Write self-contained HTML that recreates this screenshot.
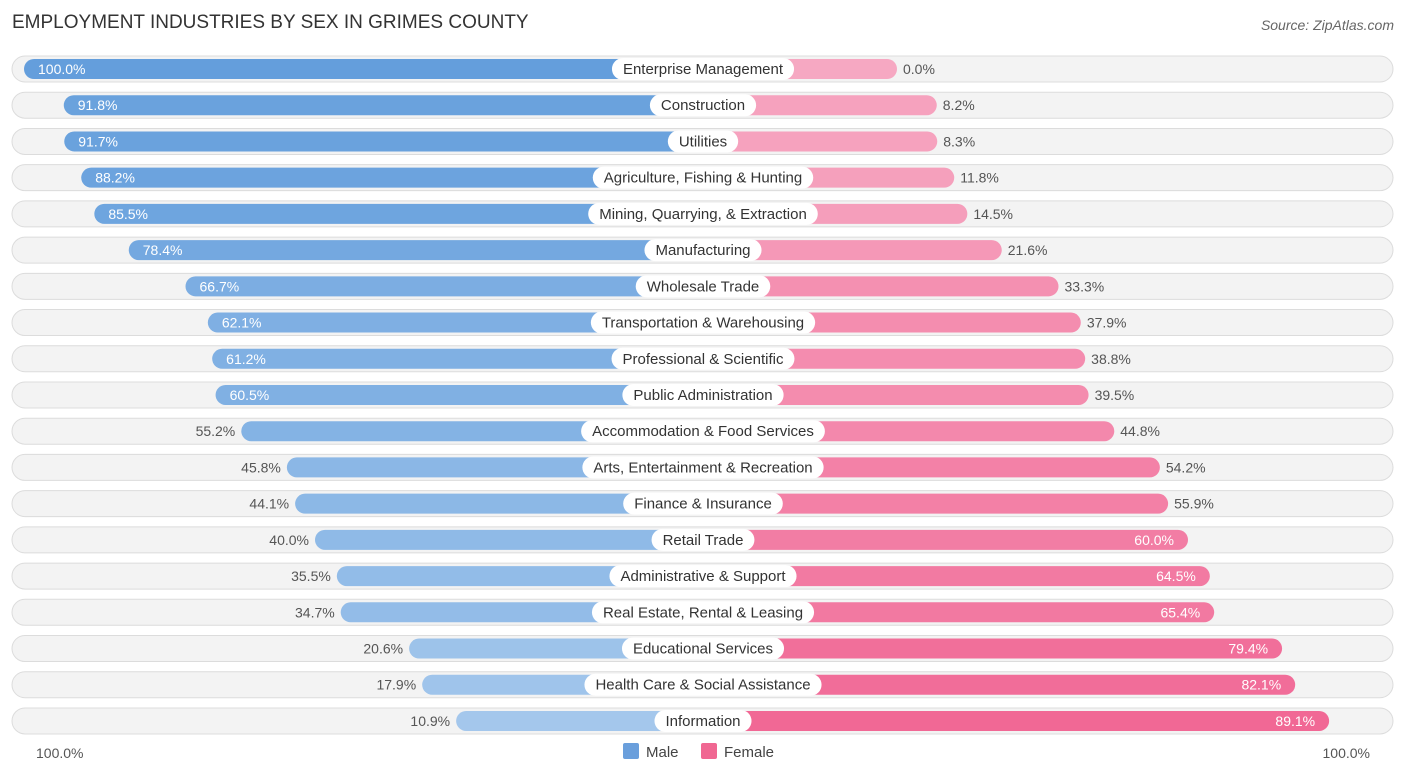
<!DOCTYPE html>
<html><head><meta charset="utf-8">
<style>
body{margin:0;width:1406px;height:776px;background:#fff;font-family:"Liberation Sans",sans-serif;overflow:hidden}
svg{display:block}
</style></head>
<body>
<svg id="chart" width="1406" height="776">
<text x="12" y="28" font-size="19" fill="#333">EMPLOYMENT INDUSTRIES BY SEX IN GRIMES COUNTY</text>
<text x="1394" y="30" font-size="14" fill="#666" font-style="italic" text-anchor="end">Source: ZipAtlas.com</text>
<g id="rows"></g>
<text x="36" y="758" font-size="14" fill="#555">100.0%</text>
<text x="1370" y="758" font-size="14" fill="#555" text-anchor="end">100.0%</text>
<rect x="623" y="743" width="16" height="16" rx="2" fill="#6a9fdc"/>
<text x="646" y="757" font-size="15" fill="#444">Male</text>
<rect x="701" y="743" width="16" height="16" rx="2" fill="#f06792"/>
<text x="724" y="757" font-size="15" fill="#444">Female</text>
</svg>
<script>
const categories=["Enterprise Management","Construction","Utilities","Agriculture, Fishing & Hunting","Mining, Quarrying, & Extraction","Manufacturing","Wholesale Trade","Transportation & Warehousing","Professional & Scientific","Public Administration","Accommodation & Food Services","Arts, Entertainment & Recreation","Finance & Insurance","Retail Trade","Administrative & Support","Real Estate, Rental & Leasing","Educational Services","Health Care & Social Assistance","Information"];
const maleValues=[100.0,91.8,91.7,88.2,85.5,78.4,66.7,62.1,61.2,60.5,55.2,45.8,44.1,40.0,35.5,34.7,20.6,17.9,10.9];
const femaleValues=[0.0,8.2,8.3,11.8,14.5,21.6,33.3,37.9,38.8,39.5,44.8,54.2,55.9,60.0,64.5,65.4,79.4,82.1,89.1];
const NS="http://www.w3.org/2000/svg";
const g=document.getElementById('rows');
const CX=703, OFF=194, K=4.85;
function mx(v){return CX-OFF-v*K;}
function fx(v){return CX+OFF+v*K;}
function rowY(i){return 69+i*36.22;}
function lerp(a,b,t){return Math.round(a+(b-a)*t);}
function mcol(v){const t=v/100;return `rgb(${lerp(172,100,t)},${lerp(204,158,t)},${lerp(238,220,t)})`;}
function fcol(v){const t=v/100;return `rgb(${lerp(246,240,t)},${lerp(168,96,t)},${lerp(194,144,t)})`;}
function el(tag,attrs,parent){const e=document.createElementNS(NS,tag);for(const k in attrs)e.setAttribute(k,attrs[k]);(parent||g).appendChild(e);return e;}
categories.forEach((c,i)=>{
  const y=rowY(i);
  const row=el('g',{});
  
  
  const bg=el('rect',{x:12,y:y-13,width:1381,height:26,rx:13,fill:'#f3f3f3',stroke:'#dcdcdc','stroke-width':1},row);
  
  
  const mv=maleValues[i], fv=femaleValues[i];
  const x0=mx(mv);
  const mb=el('rect',{x:x0,y:y-10,width:CX-x0,height:20,rx:10,fill:mcol(mv)},row);
  
  
  const x1=fx(fv);
  const fb=el('rect',{x:CX,y:y-10,width:x1-CX,height:20,rx:10,fill:fcol(fv)},row);
  
  
  // label
  const lt=el('text',{x:CX,y:y+5,'font-size':15,fill:'#333','text-anchor':'middle'},row);
  lt.textContent=c;
  const w=lt.getComputedTextLength()+22;
  const lb=el('rect',{x:CX-w/2,y:y-11,width:w,height:22,rx:11,fill:'#fff'},row);
  row.insertBefore(lb,lt);
  
  
  
  
  // values
  const mIn=mv>=60;
  const mt=el('text',{x:mIn?x0+14:x0-6,y:y+5,'font-size':14,fill:mIn?'#fff':'#555','text-anchor':mIn?'start':'end'},row);
  mt.textContent=mv.toFixed(1)+'%';
  
  
  const fIn=fv>=60;
  const ft=el('text',{x:fIn?x1-14:x1+6,y:y+5,'font-size':14,fill:fIn?'#fff':'#555','text-anchor':fIn?'end':'start'},row);
  ft.textContent=fv.toFixed(1)+'%';
  
  
});
</script>
</body></html>
